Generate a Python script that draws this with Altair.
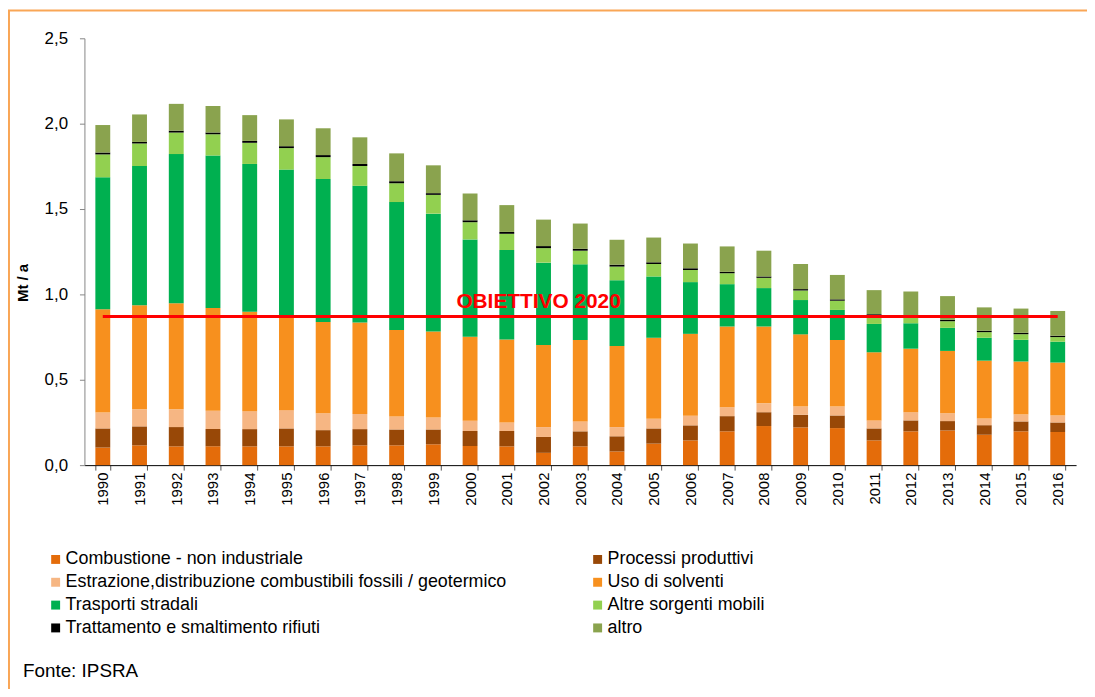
import altair as alt
import pandas as pd

years = [str(y) for y in range(1990, 2017)]

categories = [
    "Combustione - non industriale",
    "Processi produttivi",
    "Estrazione,distribuzione combustibili fossili / geotermico",
    "Uso di solventi",
    "Trasporti stradali",
    "Altre sorgenti mobili",
    "Trattamento e smaltimento rifiuti",
    "altro",
]
colors = ["#E46C0A", "#984807", "#F6B683", "#F7901E", "#00B050", "#92D050", "#000000", "#8AA34E"]

comb = [.103, .116, .110, .110, .110, .110, .110, .116, .116, .122, .112, .110, .072, .110, .080, .126, .145, .198, .229, .221, .217, .145, .198, .203, .178, .198, .194]
proc = [.112, .111, .113, .101, .101, .105, .095, .095, .093, .087, .088, .090, .093, .088, .089, .089, .088, .089, .081, .074, .074, .070, .064, .055, .056, .058, .056]
estr = [.093, .100, .104, .107, .105, .107, .099, .089, .076, .070, .060, .050, .058, .058, .054, .056, .056, .052, .052, .048, .052, .047, .048, .046, .039, .041, .041]
solv = [.605, .609, .621, .602, .583, .546, .535, .535, .506, .504, .492, .486, .480, .477, .475, .475, .480, .473, .450, .423, .390, .399, .372, .365, .339, .310, .310]
trasp = [.773, .816, .874, .894, .865, .863, .837, .801, .750, .690, .570, .524, .483, .443, .385, .359, .303, .248, .225, .201, .176, .166, .149, .135, .134, .127, .122]
altre = [.134, .132, .126, .124, .124, .126, .128, .116, .110, .110, .101, .095, .085, .080, .080, .073, .071, .064, .060, .056, .054, .049, .037, .039, .033, .033, .027]
tratt = [.011, .009, .011, .010, .011, .011, .012, .012, .012, .010, .011, .011, .012, .011, .011, .010, .010, .008, .008, .008, .008, .008, .008, .008, .008, .008, .008]
altro = [.161, .161, .157, .155, .151, .157, .157, .156, .163, .163, .157, .157, .155, .148, .146, .145, .145, .149, .151, .147, .143, .141, .141, .139, .137, .142, .145]

target_value = 0.87
target_label = "OBIETTIVO 2020"
source_label = "Fonte: IPSRA"

series = [comb, proc, estr, solv, trasp, altre, tratt, altro]
rows = []
for ci, (cat, vals) in enumerate(zip(categories, series)):
    for y, v in zip(years, vals):
        rows.append({"year": y, "cat": cat, "value": v, "ord": ci})
df = pd.DataFrame(rows)

# legend fills column by column: reorder so the two columns read row by row
leg_idx = [0, 2, 4, 6, 1, 3, 5, 7]
leg_domain = [categories[i] for i in leg_idx]
leg_range = [colors[i] for i in leg_idx]

FONT = "Liberation Sans, Arial, sans-serif"

xscale = alt.Scale(domain=years, paddingInner=0.595, paddingOuter=0.2975)
yscale = alt.Scale(domain=[0, 2.5])

xaxis = alt.Axis(title=None, labelAngle=270, tickBand="extent", labelFontSize=15,
                 labelPadding=2, domainColor="#000000", tickColor="#555555",
                 tickSize=5, labelColor="#000000", grid=False)
yaxis = alt.Axis(title="Mt / a", values=[0, 0.5, 1, 1.5, 2, 2.5],
                 labelExpr="replace(format(datum.value, '.1f'), '.', ',')",
                 labelFontSize=17, labelPadding=12, tickSize=5,
                 domainColor="#868686", tickColor="#868686", labelColor="#000000",
                 grid=False, titleFontSize=15, titleFontWeight="bold",
                 titleAngle=270, titleX=-57, titleY=246, titleAlign="center",
                 titleBaseline="alphabetic", titleColor="#000000")

X = alt.X("year:N", scale=xscale, sort=years, axis=xaxis)

bars = alt.Chart(df).mark_bar().encode(
    x=X,
    y=alt.Y("value:Q", stack="zero", scale=yscale, axis=yaxis),
    color=alt.Color("cat:N", scale=alt.Scale(domain=leg_domain, range=leg_range),
                    legend=alt.Legend(orient="none", legendX=-38, legendY=516, columns=2,
                                      columnPadding=82, rowPadding=5, symbolType="square",
                                      symbolSize=81, symbolStrokeWidth=0, labelFontSize=18,
                                      labelOffset=1, labelLimit=700, title=None, padding=0,
                                      labelColor="#000000")),
    order=alt.Order("ord:Q"),
)

line_df = pd.DataFrame({"year": [years[0], years[-1]], "value": [target_value, target_value]})
target = alt.Chart(line_df).mark_line(color="#FF0000", strokeWidth=3).encode(
    x=X,
    y=alt.Y("value:Q", scale=yscale, axis=yaxis),
)

label_df = pd.DataFrame({"year": ["2002"], "value": [0.919], "txt": [target_label]})
label = alt.Chart(label_df).mark_text(color="#FF0000", fontSize=21, fontWeight="bold",
                                      align="center", baseline="alphabetic", dx=-5).encode(
    x=X,
    y=alt.Y("value:Q", scale=yscale, axis=yaxis),
    text="txt:N",
)

one = pd.DataFrame({"a": [0]})
frame_left = alt.Chart(one).mark_rule(color="#F9A656", strokeWidth=2).encode(
    x=alt.value(-76), y=alt.value(-28), y2=alt.value(700))
frame_top = alt.Chart(one).mark_rule(color="#F9A656", strokeWidth=2).encode(
    x=alt.value(-77), x2=alt.value(1100), y=alt.value(-28))

src_df = pd.DataFrame({"txt": [source_label]})
source = alt.Chart(src_df).mark_text(align="left", baseline="alphabetic", fontSize=19,
                                     color="#000000").encode(
    x=alt.value(-62), y=alt.value(643), text="txt:N")

chart = alt.layer(bars, target, label, frame_left, frame_top, source).properties(
    width=999, height=430,
    autosize=alt.AutoSizeParams(type="none"),
    padding={"left": 77, "top": 28, "right": 11, "bottom": 223},
).configure(font=FONT).configure_view(stroke=None)

chart.save("out.html", embed_options={"renderer": "svg", "actions": False})
